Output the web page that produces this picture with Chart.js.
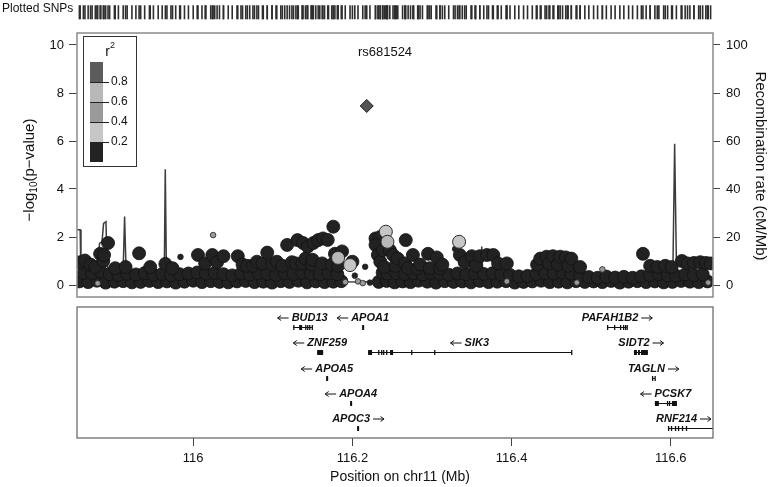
<!DOCTYPE html>
<html><head><meta charset="utf-8">
<script src="https://cdn.jsdelivr.net/npm/chart.js@4.4.1/dist/chart.umd.min.js"></script>
<style>
html,body{margin:0;padding:0;background:#fff;}
#wrap{position:relative;width:772px;height:487px;background:#fff;}
canvas{position:absolute;left:0;top:0;}
</style></head><body>
<div id="wrap">
<canvas id="strip" width="772" height="487"></canvas>
<canvas id="main" width="772" height="487"></canvas>
<canvas id="genes" width="772" height="487"></canvas>
</div>
<script>
// ---------------- DATA ----------------
const xMin = 115.854, xMax = 116.653;
const leftTicks = [0, 2, 4, 6, 8, 10];
const rightTicks = [0, 20, 40, 60, 80, 100];
const xTicks = [116, 116.2, 116.4, 116.6];
const r2Breaks = [0.2, 0.4, 0.6, 0.8];

const leadName = 'rs681524';
const leadPos = [116.218];
const leadLogP = [7.46];

// low-r2 SNPs, lower layer
const row0Pos = [115.857,115.868,115.879,115.890,115.901,115.912,115.923,115.934,115.945,115.956,
 115.967,115.978,115.989,116.000,116.011,116.022,116.033,116.044,116.055,116.066,
 116.077,116.088,116.099,116.110,116.121,116.132,116.143,116.154,116.165,116.176,
 116.186,116.233,116.243,116.253,116.263,116.273,116.283,116.294,116.305,116.316,
 116.327,116.338,116.349,116.360,116.371,116.382,116.393,116.404,116.415,116.426,
 116.437,116.448,116.459,116.470,116.481,116.492,116.503,116.514,116.525,116.536,
 116.547,116.558,116.569,116.580,116.591,116.602,116.613,116.624,116.635,116.646];
const row0LogP = [0.15,0.12,0.18,0.10,0.14,0.16,0.11,0.13,0.17,0.12,
 0.15,0.10,0.14,0.18,0.12,0.16,0.13,0.11,0.15,0.17,
 0.12,0.14,0.10,0.16,0.13,0.18,0.11,0.15,0.12,0.14,
 0.16,0.13,0.17,0.11,0.15,0.12,0.18,0.14,0.10,0.16,
 0.13,0.15,0.11,0.17,0.12,0.14,0.16,0.10,0.13,0.15,
 0.18,0.12,0.14,0.11,0.16,0.13,0.15,0.12,0.17,0.10,
 0.14,0.16,0.12,0.15,0.11,0.13,0.17,0.14,0.12,0.15];

// low-r2 SNPs, middle layer
const row1Pos = [115.862,115.873,115.884,115.895,115.906,115.917,115.928,115.939,115.950,115.961,
 115.972,115.983,115.994,116.005,116.016,116.027,116.038,116.049,116.060,116.071,
 116.082,116.093,116.104,116.115,116.126,116.137,116.148,116.159,116.170,116.181,
 116.238,116.244,116.255,116.266,116.277,116.288,116.299,116.310,116.321,116.332,
 116.343,116.354,116.365,116.376,116.387,116.398,116.409,116.420,116.431,116.442,
 116.453,116.464,116.475,116.486,116.497,116.508,116.519,116.530,116.541,116.552,
 116.563,116.574,116.585,116.596,116.607,116.618,116.629,116.640];
const row1LogP = [0.50,0.48,0.55,0.45,0.42,0.47,0.44,0.50,0.43,0.46,
 0.41,0.45,0.48,0.52,0.47,0.50,0.45,0.40,0.48,0.44,
 0.50,0.46,0.42,0.49,0.45,0.51,0.47,0.44,0.49,0.45,
 0.52,0.48,0.50,0.46,0.49,0.44,0.50,0.47,0.43,0.48,
 0.45,0.50,0.46,0.49,0.44,0.42,0.36,0.38,0.46,0.50,
 0.48,0.52,0.47,0.40,0.33,0.30,0.35,0.31,0.34,0.30,
 0.36,0.42,0.45,0.40,0.38,0.44,0.41,0.45];

// low-r2 SNPs, upper layer
const upperPos = [115.858,115.864,115.871,115.877,115.883,115.887,115.888,115.893,115.902,115.915,
 115.932,115.946,115.965,115.974,116.006,116.015,116.024,116.030,116.038,116.056,
 116.062,116.068,116.075,116.080,116.087,116.093,116.099,116.105,116.112,116.118,
 116.124,116.129,116.131,116.137,116.138,116.141,116.144,116.149,116.150,116.151,
 116.157,116.162,116.163,116.169,116.174,116.176,116.178,116.182,116.187,116.200,
 116.229,116.235,116.229,116.232,116.235,116.240,116.238,116.247,116.251,116.254,
 116.257,116.266,116.267,116.270,116.276,116.282,116.285,116.295,116.297,116.306,
 116.310,116.313,116.335,116.341,116.350,116.355,116.360,116.369,116.377,116.383,
 116.394,116.432,116.436,116.444,116.447,116.452,116.458,116.461,116.468,116.471,
 116.475,116.486,116.565,116.574,116.583,116.593,116.601,116.614,116.621,116.629,
 116.637,116.644,116.650];
const upperLogP = [0.95,1.02,0.85,0.75,1.30,1.00,1.25,1.75,0.70,0.75,
 1.32,0.75,0.88,0.70,1.25,0.90,1.25,0.95,1.20,1.20,
 0.85,0.80,0.80,0.97,0.90,1.35,0.85,0.97,0.80,1.67,
 0.95,0.90,1.87,0.90,1.75,1.10,1.60,0.85,1.05,1.75,
 1.87,0.90,1.94,1.88,0.85,2.43,1.30,0.80,1.40,0.97,
 1.94,2.00,1.67,1.25,0.97,0.75,1.45,1.45,1.25,0.80,
 1.10,0.90,1.87,0.70,1.25,0.70,0.85,1.30,0.70,1.15,
 0.70,0.85,1.25,0.95,1.20,0.80,1.20,1.25,1.25,0.90,
 0.90,0.85,1.10,1.18,0.90,1.20,0.85,1.18,1.15,0.80,
 1.10,0.75,1.30,0.80,0.75,0.80,0.75,1.00,0.90,0.92,
 0.95,0.92,0.90];

// imputed SNPs
const smallPos = [115.880,115.984,116.025,116.191,116.203,116.207,116.213,116.216,116.222,116.329,116.394,116.482,116.514,116.647];
const smallLogP = [0.07,1.17,2.08,0.12,0.39,0.15,0.08,0.76,0.10,1.50,0.15,0.10,0.65,0.10];
const smallR2 = [0.45,0.05,0.5,0.45,0.05,0.45,0.45,0.05,0.05,0.05,0.45,0.45,0.45,0.45];

// higher-r2 SNPs
const lightPos = [116.182,116.197,116.242,116.244,116.334];
const lightLogP = [1.13,0.83,2.22,1.80,1.80];
const lightR2 = [0.7,0.3,0.3,0.7,0.3];

// recombination rate (cM/Mb)
const recombPos = [115.854,115.858,115.859,115.868,115.879,115.8824,115.8854,115.8874,115.8904,115.8917,
 115.895,115.905,115.9117,115.9138,115.9159,115.930,115.950,115.9636,115.9649,115.9664,
 115.980,116.010,116.050,116.090,116.130,116.170,116.190,116.210,116.225,116.260,
 116.300,116.340,116.361,116.3625,116.364,116.400,116.450,116.500,116.550,116.590,
 116.6026,116.6048,116.6073,116.615,116.630,116.653];
const recombRate = [23,23,1.5,2,7.6,17.4,18,25.7,26.4,9,
 2,1.5,3,28.5,3,1.2,2,3,48.2,3,
 1.5,2.5,1.8,2.2,3,2,1.4,1.2,1.5,2,
 2.5,1.8,3,16,3,2,1.5,2.5,2,3,
 5,58.8,3,1,0.5,0.4];

// genes
const geneName = ['BUD13','APOA1','ZNF259','SIK3','APOA5','APOA4','APOC3','PAFAH1B2','SIDT2','TAGLN','PCSK7','RNF214'];
const geneStart = [116.1256,116.2122,116.1557,116.2197,116.1670,116.1971,116.2059,116.5198,116.5537,116.5763,116.5800,116.5964];
const geneEnd = [116.1494,116.2147,116.1632,116.4752,116.1695,116.1996,116.2084,116.5449,116.5712,116.5800,116.6077,116.7000];
const geneStrand = ['-','-','-','-','-','-','+','+','+','+','-','+'];
const geneRow = [1,1,2,2,3,4,5,1,2,3,4,5];
const exonGene = [0,0,0,0,0,0, 1, 2, 3,3,3,3,3,3,3,3,3, 4, 5, 6, 7,7,7,7,7,7, 8,8,8, 9,9, 10,10,10,10, 11,11,11,11,11,11];
const exonStart = [116.1256,116.1331,116.1406,116.1431,116.1456,116.1488, 116.2122, 116.1557,
 116.2197,116.2323,116.2360,116.2385,116.2423,116.2473,116.2737,116.3026,116.4747,
 116.1670, 116.1971, 116.2059,
 116.5198,116.5286,116.5361,116.5399,116.5424,116.5444,
 116.5537,116.5587,116.5625, 116.5763,116.5795,
 116.5800,116.5951,116.5976,116.6014,
 116.5964,116.6001,116.6051,116.6089,116.6139,116.6189];
const exonEnd = [116.1262,116.1368,116.1411,116.1436,116.1461,116.1494, 116.2147, 116.1632,
 116.2247,116.2328,116.2365,116.2390,116.2428,116.2511,116.2742,116.3031,116.4752,
 116.1695, 116.1996, 116.2084,
 116.5203,116.5291,116.5366,116.5404,116.5429,116.5449,
 116.5574,116.5612,116.5712, 116.5768,116.5800,
 116.5850,116.5956,116.5981,116.6077,
 116.5969,116.6006,116.6056,116.6094,116.6144,116.6194];

// ---------------- RENDER ----------------
const FONT = '"Liberation Sans", Arial, Helvetica, sans-serif';
Chart.defaults.font.family = FONT;
Chart.defaults.color = '#111';

function r2Color(r) {
  if (r >= r2Breaks[3]) return '#5c5c5c';
  if (r >= r2Breaks[2]) return '#b8b8b8';
  if (r >= r2Breaks[1]) return '#9a9a9a';
  if (r >= r2Breaks[0]) return '#c6c6c6';
  return '#222222';
}
const mk = (P, L, R) => P.map((p, i) => ({x: p, y: L[i], r2: R ? R[i] : 0.05}));

const lowPts = mk(row0Pos, row0LogP).concat(mk(row1Pos, row1LogP), mk(upperPos, upperLogP));
const smallPts = mk(smallPos, smallLogP, smallR2);
const lightPts = mk(lightPos, lightLogP, lightR2);
const leadPts = mk(leadPos, leadLogP, [1]);
const recombPts = recombPos.map((p, i) => ({x: p, y: recombRate[i]}));
const allPos = row0Pos.concat(row1Pos, upperPos, smallPos, lightPos, leadPos);

function setTicks(arr) { return s => { s.ticks = arr.map(v => ({value: v})); }; }

// ----- top strip -----
new Chart(document.getElementById('strip'), {
  type: 'scatter',
  data: { datasets: [{
    data: allPos.map(p => ({x: p, y: 0.5})),
    pointStyle: 'line', pointRotation: 90, pointRadius: 7,
    pointBorderColor: '#2e2e2e', pointBorderWidth: 1.6, clip: false
  }]},
  options: {
    responsive: false, animation: false, events: [],
    layout: { padding: { left: 77, right: 59, top: 2, bottom: 471 } },
    plugins: { legend: {display: false}, tooltip: {enabled: false} },
    scales: {
      x: { type: 'linear', min: xMin, max: xMax, display: false },
      y: { min: 0, max: 1, display: false }
    }
  },
  plugins: [{
    id: 'stripText',
    afterDraw(chart) {
      const c = chart.ctx;
      c.save();
      c.font = '12px ' + FONT; c.fillStyle = '#111';
      c.textBaseline = 'middle'; c.textAlign = 'left';
      c.fillText('Plotted SNPs', 2, 9);
      c.restore();
    }
  }]
});

// ----- main association plot -----
const mainDecor = {
  id: 'mainDecor',
  afterDraw(chart) {
    const c = chart.ctx, a = chart.chartArea;
    c.save();
    // frame
    c.strokeStyle = '#8a8a8a'; c.lineWidth = 1.5;
    c.strokeRect(a.left, a.top, a.right - a.left, a.bottom - a.top);
    // title
    c.fillStyle = '#111'; c.textAlign = 'center'; c.textBaseline = 'middle';
    c.font = '13px ' + FONT;
    c.fillText(leadName, 385, 52);
    // left axis title with subscript
    c.save();
    c.translate(30, 170); c.rotate(-Math.PI / 2);
    const f1 = '15px ' + FONT, f2 = '10px ' + FONT;
    const parts = [['\u2212log', f1, 0], ['10', f2, 4], ['(p\u2212value)', f1, 0]];
    let tot = 0;
    parts.forEach(p => { c.font = p[1]; tot += c.measureText(p[0]).width; });
    let x = -tot / 2;
    c.textAlign = 'left';
    parts.forEach(p => { c.font = p[1]; c.fillText(p[0], x, p[2]); x += c.measureText(p[0]).width; });
    c.restore();
    // right axis title
    c.save();
    c.translate(760, 166); c.rotate(Math.PI / 2);
    c.font = '15px ' + FONT; c.textAlign = 'center'; c.textBaseline = 'middle';
    c.fillText('Recombination rate (cM/Mb)', 0, 0);
    c.restore();
    // r2 legend
    const bx = 83.5, by = 36.5, bw = 53, bh = 130;
    c.fillStyle = '#fff'; c.fillRect(bx, by, bw, bh);
    c.strokeStyle = '#333'; c.lineWidth = 1; c.strokeRect(bx, by, bw, bh);
    c.fillStyle = '#111'; c.textBaseline = 'middle';
    c.font = '14px ' + FONT; c.textAlign = 'right';
    c.fillText('r', 110, 52);
    c.font = '9px ' + FONT; c.textAlign = 'left';
    c.fillText('2', 110, 46);
    const segTop = 62, segH = 20, segX = 90, segW = 13;
    const mids = [0.9, 0.7, 0.5, 0.3, 0.1];
    mids.forEach((m, i) => {
      c.fillStyle = r2Color(m);
      c.fillRect(segX, segTop + i * segH, segW, segH);
    });
    c.strokeStyle = '#222'; c.lineWidth = 1;
    c.font = '12px ' + FONT; c.fillStyle = '#111'; c.textAlign = 'left';
    [0.8, 0.6, 0.4, 0.2].forEach((v, i) => {
      const yy = segTop + (i + 1) * segH;
      c.beginPath(); c.moveTo(segX, yy + 0.5); c.lineTo(segX + segW + 6, yy + 0.5); c.stroke();
      c.fillText(v.toFixed(1), segX + segW + 8, yy);
    });
    c.restore();
  }
};

new Chart(document.getElementById('main'), {
  type: 'scatter',
  data: { datasets: [
    { type: 'line', yAxisID: 'y2', data: recombPts, borderColor: '#3c3c3c', borderWidth: 1.5,
      pointRadius: 0, tension: 0, fill: false, order: 5, clip: 0 },
    { data: lowPts, pointRadius: 6.5, pointBackgroundColor: '#222', pointBorderColor: '#111',
      pointBorderWidth: 0.8, order: 4, clip: 0 },
    { data: smallPts, pointRadius: 2.8, pointBackgroundColor: ctx => r2Color(ctx.raw.r2),
      pointBorderColor: '#222', pointBorderWidth: 0.8, order: 3, clip: 0 },
    { data: lightPts, pointRadius: 6.5, pointBackgroundColor: ctx => r2Color(ctx.raw.r2),
      pointBorderColor: '#2a2a2a', pointBorderWidth: 1, order: 2, clip: 0 },
    { data: leadPts, pointStyle: 'rectRot', pointRadius: 6.5, pointBackgroundColor: '#555',
      pointBorderColor: '#1a1a1a', pointBorderWidth: 1, order: 1, clip: 0 }
  ]},
  options: {
    responsive: false, animation: false, events: [],
    layout: { padding: { top: 33, bottom: 190, left: 0, right: 0 } },
    plugins: { legend: {display: false}, tooltip: {enabled: false} },
    scales: {
      x: { type: 'linear', min: xMin, max: xMax, display: false },
      y: { position: 'left', min: -0.5, max: 10.5,
        afterBuildTicks: setTicks(leftTicks), afterFit: s => { s.width = 77; },
        ticks: { font: {size: 13}, color: '#111', padding: 5 },
        grid: { drawOnChartArea: false, tickLength: 8, color: '#444' },
        border: { display: false } },
      y2: { position: 'right', min: -5, max: 105,
        afterBuildTicks: setTicks(rightTicks), afterFit: s => { s.width = 59; },
        ticks: { font: {size: 13}, color: '#111', padding: 6 },
        grid: { drawOnChartArea: false, tickLength: 7, color: '#444' },
        border: { display: false } }
    }
  },
  plugins: [mainDecor]
});

// ----- gene panel -----
function arrow(c, x1, x2, y) {
  c.beginPath(); c.moveTo(x1, y); c.lineTo(x2, y); c.stroke();
  const d = x2 > x1 ? -1 : 1;
  c.beginPath(); c.moveTo(x2 + d * 3.5, y - 2.5); c.lineTo(x2, y); c.lineTo(x2 + d * 3.5, y + 2.5); c.stroke();
}
const genePlugin = {
  id: 'genePlugin',
  afterDraw(chart) {
    const c = chart.ctx, a = chart.chartArea, xs = chart.scales.x, ys = chart.scales.y;
    c.save();
    c.beginPath(); c.rect(a.left, a.top, a.right - a.left, a.bottom - a.top); c.clip();
    c.strokeStyle = '#111'; c.fillStyle = '#111'; c.lineWidth = 1;
    geneName.forEach((g, i) => {
      const x1 = xs.getPixelForValue(geneStart[i]), x2 = xs.getPixelForValue(geneEnd[i]);
      const y = Math.round(ys.getPixelForValue(geneRow[i])) + 0.5;
      c.beginPath(); c.moveTo(x1, y); c.lineTo(x2, y); c.stroke();
    });
    exonGene.forEach((gi, k) => {
      const x1 = xs.getPixelForValue(exonStart[k]), x2 = xs.getPixelForValue(exonEnd[k]);
      const y = Math.round(ys.getPixelForValue(geneRow[gi])) + 0.5;
      c.fillRect(x1, y - 2.5, Math.max(1.3, x2 - x1), 5);
    });
    c.font = 'italic bold 11px ' + FONT; c.textBaseline = 'middle'; c.textAlign = 'left';
    geneName.forEach((g, i) => {
      const x1 = xs.getPixelForValue(geneStart[i]), x2 = xs.getPixelForValue(geneEnd[i]);
      const y = Math.round(ys.getPixelForValue(geneRow[i])) - 9;
      const w = c.measureText(g).width, aw = 11, gap = 3, tot = w + aw + gap;
      let left = (x1 + x2) / 2 - tot / 2;
      left = Math.max(a.left + 2, Math.min(a.right - 2 - tot, left));
      if (geneStrand[i] === '-') {
        arrow(c, left + aw, left, y);
        c.fillText(g, left + aw + gap, y);
      } else {
        c.fillText(g, left, y);
        arrow(c, left + w + gap, left + tot, y);
      }
    });
    c.restore();
    c.save();
    c.strokeStyle = '#6e6e6e'; c.lineWidth = 1.3;
    c.strokeRect(a.left, a.top, a.right - a.left, a.bottom - a.top);
    c.fillStyle = '#111'; c.font = '14px ' + FONT; c.textAlign = 'center'; c.textBaseline = 'middle';
    c.fillText('Position on chr11 (Mb)', 400, 477);
    c.restore();
  }
};

new Chart(document.getElementById('genes'), {
  type: 'scatter',
  data: { datasets: [{ data: [] }] },
  options: {
    responsive: false, animation: false, events: [],
    layout: { padding: { left: 77, right: 59, top: 307, bottom: 0 } },
    plugins: { legend: {display: false}, tooltip: {enabled: false} },
    scales: {
      x: { type: 'linear', min: xMin, max: xMax, position: 'bottom',
        afterBuildTicks: setTicks(xTicks), afterFit: s => { s.height = 49; },
        ticks: { font: {size: 13}, color: '#111', padding: 5, maxRotation: 0, autoSkip: false,
          callback: v => String(+(+v).toFixed(1)) },
        grid: { drawOnChartArea: false, tickLength: 8, color: '#444' },
        border: { display: false } },
      y: { min: 0.2, max: 5.398, reverse: true, display: false }
    }
  },
  plugins: [genePlugin]
});
</script>
</body></html>
